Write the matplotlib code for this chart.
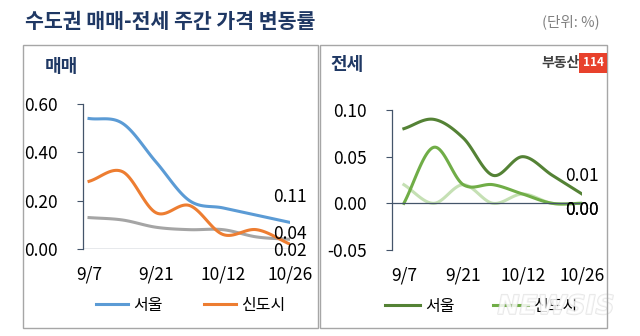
import numpy as np
import matplotlib.pyplot as plt
import matplotlib.patches as patches
import matplotlib.patheffects as pe

plt.rcParams['font.family'] = ['Noto Sans CJK KR', 'DejaVu Sans']

# ---- data (weekly % change) ----
weeks = ['9/7', '9/14', '9/21', '9/28', '10/12', '10/19', '10/26']
tick_pos = [0, 2, 4, 6]
tick_labels = ['9/7', '9/21', '10/12', '10/26']

sale_seoul = [0.54, 0.52, 0.36, 0.20, 0.17, 0.14, 0.11]
sale_sindosi = [0.28, 0.32, 0.15, 0.18, 0.06, 0.08, 0.02]
sale_gyeonggi = [0.13, 0.12, 0.09, 0.08, 0.08, 0.05, 0.04]

jeonse_seoul = [0.08, 0.09, 0.07, 0.03, 0.05, 0.03, 0.01]
jeonse_sindosi = [0.00, 0.06, 0.02, 0.02, 0.01, 0.00, 0.00]
jeonse_gyeonggi = [0.02, 0.00, 0.02, 0.00, 0.01, 0.00, 0.00]

NAVY = '#1f3864'
AXIS = '#44546a'


def smooth(y, n=20):
    # catmull-rom curve through the weekly points (excel-style smoothed line)
    y = np.asarray(y, dtype=float)
    x = np.arange(len(y), dtype=float)
    px = np.concatenate([[2 * x[0] - x[1]], x, [2 * x[-1] - x[-2]]])
    py = np.concatenate([[2 * y[0] - y[1]], y, [2 * y[-1] - y[-2]]])
    xs, ys = [], []
    t = np.linspace(0, 1, n, endpoint=False)
    for i in range(1, len(px) - 2):
        for arr, out in ((px, xs), (py, ys)):
            p0, p1, p2, p3 = arr[i - 1], arr[i], arr[i + 1], arr[i + 2]
            out.extend(0.5 * ((2 * p1) + (-p0 + p2) * t
                              + (2 * p0 - 5 * p1 + 4 * p2 - p3) * t ** 2
                              + (-p0 + 3 * p1 - 3 * p2 + p3) * t ** 3))
    xs.append(x[-1])
    ys.append(y[-1])
    return np.array(xs), np.array(ys)


def style_axes(ax, ymin, ymax, yticks, fmt):
    ax.set_ylim(ymin, ymax)
    ax.set_yticks(yticks)
    ax.set_yticklabels([fmt.format(v) for v in yticks])
    ax.set_xticks(tick_pos)
    ax.set_xticklabels(tick_labels)
    for s in ['top', 'right', 'bottom']:
        ax.spines[s].set_visible(False)
    ax.spines['left'].set_color(AXIS)
    ax.spines['left'].set_linewidth(0.9)
    ax.axhline(0, color=AXIS, lw=0.9, xmin=0, xmax=1)
    ax.tick_params(axis='y', direction='out', length=4, color=AXIS,
                   labelsize=12.5, pad=14, labelcolor='black')
    ax.tick_params(axis='x', length=0, labelsize=12.5, pad=12)
    ax.patch.set_alpha(0)


fig = plt.figure(figsize=(6.4, 3.36), dpi=100)

# panel frames
for x0, x1 in [(23, 318), (320, 607)]:
    fig.patches.append(patches.Rectangle((x0 / 640, 1 - 328 / 336), (x1 - x0) / 640, (328 - 45) / 336,
                                         transform=fig.transFigure, fill=False,
                                         edgecolor='#a6a6a6', lw=1.0))

fig.text(25 / 640, 1 - 22 / 336, '수도권 매매-전세 주간 가격 변동률', fontsize=14.8,
         fontweight='bold', color=NAVY, va='center', ha='left')
fig.text(600 / 640, 1 - 22 / 336, '(단위: %)', fontsize=10.5, color='#808080',
         va='center', ha='right')

# ---- 매매 ----
ax1 = fig.add_axes([83 / 640, 1 - 249 / 336, 207 / 640, 145 / 336])
x, y = smooth(sale_gyeonggi)
ax1.plot(x, y, color='#a5a5a5', lw=2.2, label='_nolegend_')
x, y = smooth(sale_sindosi)
ax1.plot(x, y, color='#ed7d31', lw=2.2, label='신도시')
x, y = smooth(sale_seoul)
ax1.plot(x, y, color='#5b9bd5', lw=2.2, label='서울')
ax1.set_xlim(-0.18, 6.0)
style_axes(ax1, 0, 0.6, [0, 0.2, 0.4, 0.6], '{:.2f}')
ax1.annotate(f'{sale_seoul[-1]:.2f}', (6, sale_seoul[-1]), xytext=(0, 18),
             textcoords='offset points', ha='center', va='center', fontsize=12.5)
ax1.annotate(f'{sale_gyeonggi[-1]:.2f}', (6, sale_gyeonggi[-1]), xytext=(0, 4),
             textcoords='offset points', ha='center', va='center', fontsize=12.5)
ax1.annotate(f'{sale_sindosi[-1]:.2f}', (6, sale_sindosi[-1]), xytext=(0, -5),
             textcoords='offset points', ha='center', va='center', fontsize=12.5)
h, l = ax1.get_legend_handles_labels()
ax1.legend(h[::-1], l[::-1], ncol=2, frameon=False, loc='center',
           bbox_to_anchor=(0.52, -0.39), fontsize=11.5, handlelength=2.0,
           columnspacing=2.6, handletextpad=0.3)
fig.text(45 / 640, 1 - 66 / 336, '매매', fontsize=13, fontweight='bold',
         color=NAVY, va='center', ha='left')

# ---- 전세 ----
ax2 = fig.add_axes([392 / 640, 1 - 250 / 336, 190 / 640, 140 / 336])
x, y = smooth(jeonse_gyeonggi)
ax2.plot(x, y, color='#c5e0b4', lw=2.2, label='_nolegend_')
x, y = smooth(jeonse_sindosi)
ax2.plot(x, y, color='#70ad47', lw=2.2, label='신도시')
x, y = smooth(jeonse_seoul)
ax2.plot(x, y, color='#548235', lw=2.2, label='서울')
ax2.set_xlim(-0.4, 6.0)
style_axes(ax2, -0.05, 0.10, [-0.05, 0, 0.05, 0.10], '{:.2f}')
ax2.annotate(f'{jeonse_seoul[-1]:.2f}', (6, jeonse_seoul[-1]), xytext=(0, 13),
             textcoords='offset points', ha='center', va='center', fontsize=12.5)
for vals in (jeonse_sindosi, jeonse_gyeonggi):
    ax2.annotate(f'{vals[-1]:.2f}', (6, vals[-1]), xytext=(0, -5),
                 textcoords='offset points', ha='center', va='center', fontsize=12.5)
h, l = ax2.get_legend_handles_labels()
ax2.legend(h[::-1], l[::-1], ncol=2, frameon=False, loc='center',
           bbox_to_anchor=(0.47, -0.4), fontsize=11.5, handlelength=2.2,
           columnspacing=2.4, handletextpad=0.3)
fig.text(330 / 640, 1 - 65 / 336, '전세', fontsize=13, fontweight='bold',
         color=NAVY, va='center', ha='left')

# 부동산114 logo
fig.text(580 / 640, 1 - 63 / 336, '부동산', fontsize=10, fontweight='bold',
         color='#404040', va='center', ha='right')
fig.text(593 / 640, 1 - 63 / 336, '114', fontsize=8.5, fontweight='bold', color='white',
         va='center', ha='center',
         bbox=dict(boxstyle='square,pad=0.3', fc='#e8412c', ec='none'))

# watermark
fig.text(556 / 640, 1 - 307 / 336, 'NEWSIS', fontsize=19, fontweight='bold',
         fontstyle='italic', color='white', alpha=0.6, ha='center', va='center',
         family='DejaVu Sans', zorder=0.5,
         path_effects=[pe.withStroke(linewidth=1.2, foreground='#d8d8d8')])

fig.savefig('out.png', dpi=100, facecolor='white')
